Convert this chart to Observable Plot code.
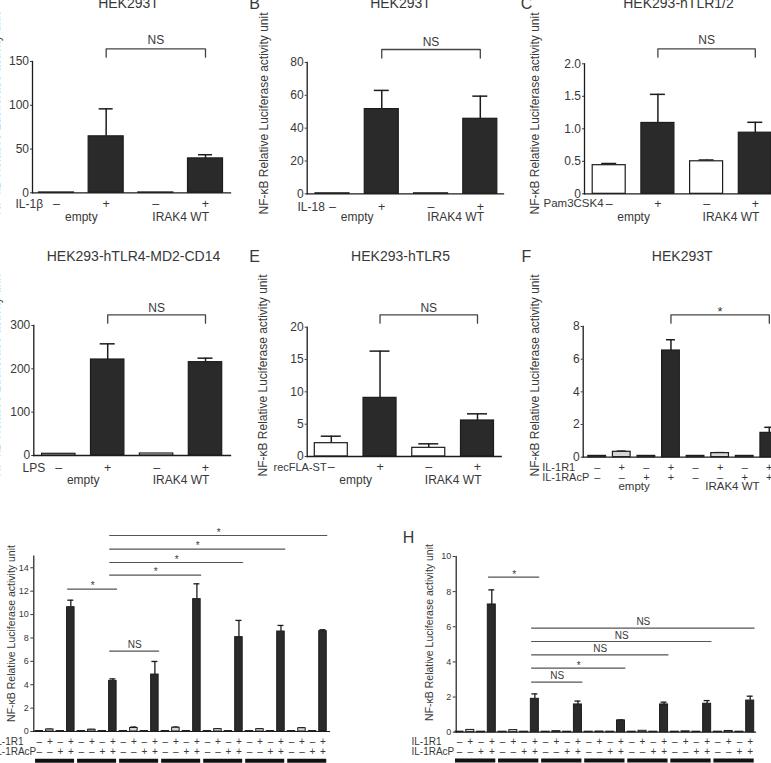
<!DOCTYPE html>
<html><head><meta charset="utf-8">
<script src="https://cdn.jsdelivr.net/npm/d3@7"></script>
<script src="https://cdn.jsdelivr.net/npm/@observablehq/plot@0.6"></script>
<style>
html,body{margin:0;padding:0;background:#fff;}
#fig{position:relative;width:771px;height:763px;overflow:hidden;background:#fff;}
#fig svg{position:absolute;left:0;top:0;overflow:visible;background:transparent !important;}
</style></head><body><div id="fig"></div>
<script>
// ---------------- DATA ----------------
const yAxisTitle = "NF-κB Relative Luciferase activity unit";
const vectorGroups = ["empty", "IRAK4 WT"];

// Panel A
const aTitle = "HEK293T";
const aStimulus = "IL-1β";
const aSigns = ["–", "+", "–", "+"];
const aValues = [0.4, 64.5, 0.4, 39.3];
const aErrTop = [null, 95.9, null, 43.5];
const aTicks = [0, 50, 100, 150];
const aTest = {from: 1, to: 3, label: "NS"};

// Panel B
const bTitle = "HEK293T";
const bStimulus = "IL-18";
const bSigns = ["–", "+", "–", "+"];
const bValues = [0.3, 51.6, 0.3, 45.7];
const bErrTop = [null, 63.0, null, 59.5];
const bTicks = [0, 20, 40, 60, 80];
const bTest = {from: 1, to: 3, label: "NS"};

// Panel C
const cTitle = "HEK293-hTLR1/2";
const cStimulus = "Pam3CSK4";
const cSigns = ["–", "+", "–", "+"];
const cValues = [0.44, 1.09, 0.50, 0.94];
const cErrTop = [0.466, 1.53, 0.52, 1.10];
const cTicks = [0, 0.5, 1.0, 1.5, 2.0];
const cTest = {from: 1, to: 3, label: "NS"};

// Panel D
const dTitle = "HEK293-hTLR4-MD2-CD14";
const dStimulus = "LPS";
const dSigns = ["–", "+", "–", "+"];
const dValues = [3.9, 221.5, 4.6, 215.4];
const dErrTop = [null, 257.7, null, 224.6];
const dTicks = [0, 100, 200, 300];
const dTest = {from: 1, to: 3, label: "NS"};

// Panel E
const eTitle = "HEK293-hTLR5";
const eStimulus = "recFLA-ST";
const eSigns = ["–", "+", "–", "+"];
const eValues = [2.06, 9.07, 1.34, 5.57];
const eErrTop = [3.14, 16.3, 1.96, 6.6];
const eTicks = [0, 5, 10, 15, 20];
const eTest = {from: 1, to: 3, label: "NS"};

// Panel F
const fTitle = "HEK293T";
const receptorLabels = ["IL-1R1", "IL-1RAcP"];
const fSignsR1 = ["–", "+", "–", "+", "–", "+", "–", "+"];
const fSignsR2 = ["–", "–", "+", "+", "–", "–", "+", "+"];
const fValues = [0.08, 0.33, 0.08, 6.53, 0.08, 0.25, 0.08, 1.49];
const fErrTop = [null, 0.37, null, 7.19, null, 0.28, null, 1.83];
const fTicks = [0, 2, 4, 6, 8];
const fTest = {from: 3, to: 7, label: "*"};

// Panel G
const gSignsR1 = ["–","+","–","+","–","+","–","+","–","+","–","+","–","+","–","+","–","+","–","+","–","+","–","+","–","+","–","+"];
const gSignsR2 = ["–","–","+","+","–","–","+","+","–","–","+","+","–","–","+","+","–","–","+","+","–","–","+","+","–","–","+","+"];
const gValues = [0.04, 0.17, 0.04, 10.63, 0.04, 0.15, 0.04, 4.33, 0.04, 0.30, 0.04, 4.87, 0.04, 0.32, 0.04, 11.32,
                 0.04, 0.20, 0.04, 8.07, 0.04, 0.20, 0.04, 8.55, 0.04, 0.28, 0.04, 8.58];
const gErrTop = [null, 0.20, null, 11.23, null, 0.18, null, 4.50, null, 0.38, null, 5.99, null, 0.38, null, 12.63,
                 null, 0.24, null, 9.50, null, 0.24, null, 9.07, null, 0.33, null, 8.70];
const gTicks = [0, 2, 4, 6, 8, 10, 12, 14];
const gTests = [
  {from: 3, to: 7, label: "*"},
  {from: 7, to: 11, label: "NS"},
  {from: 7, to: 15, label: "*"},
  {from: 7, to: 19, label: "*"},
  {from: 7, to: 23, label: "*"},
  {from: 7, to: 27, label: "*"}
];

// Panel H
const hSignsR1 = gSignsR1.slice();
const hSignsR2 = gSignsR2.slice();
const hValues = [0.03, 0.13, 0.03, 7.27, 0.03, 0.12, 0.03, 1.90, 0.03, 0.06, 0.03, 1.58, 0.03, 0.04, 0.03, 0.67,
                 0.03, 0.08, 0.03, 1.58, 0.03, 0.05, 0.03, 1.62, 0.03, 0.07, 0.03, 1.80];
const hErrTop = [null, null, null, 8.10, null, null, null, 2.18, null, null, null, 1.77, null, null, null, 0.70,
                 null, null, null, 1.71, null, null, null, 1.80, null, null, null, 2.05];
const hTicks = [0, 2, 4, 6, 8, 10];
const hTests = [
  {from: 3, to: 7, label: "*"},
  {from: 7, to: 27, label: "NS"},
  {from: 7, to: 23, label: "NS"},
  {from: 7, to: 19, label: "NS"},
  {from: 7, to: 15, label: "*"},
  {from: 7, to: 11, label: "NS"}
];

// ---------------- DRAWING ----------------
const W = 771, H = 763;
const FONT = "'Liberation Sans', Arial, Helvetica, sans-serif";
const INK = "#1c1c1c", TXT = "#383838", DARK = "#2a2a2a", LIGHT = "#d6d6d6", WHITE = "#ffffff";

function panel(d, L) {
  const n = d.values.length;
  const step = (L.cn - L.c1) / (n - 1);
  const hw = L.bw / 2 / step;
  const capHalf = L.cap / 2 / step;
  const yOf = px => L.ymax * (L.bottom - px) / (L.bottom - L.top);
  const rows = d.values.map((v, i) => ({i, v, e: d.errTop[i], fill: d.fillOf(i)}));
  const errs = rows.filter(r => r.e != null);
  const centered = {textAnchor: "middle", lineAnchor: "middle"};
  const marks = [
    Plot.ruleX(errs, {x: "i", y1: "v", y2: "e", stroke: INK, strokeWidth: L.sw}),
    Plot.ruleY(errs, {y: "e", x1: r => r.i - capHalf, x2: r => r.i + capHalf, stroke: INK, strokeWidth: L.sw}),
    Plot.rect(rows, {x1: r => r.i - hw, x2: r => r.i + hw, y1: () => 0, y2: "v", fill: "fill", stroke: INK, strokeWidth: L.barSw}),
    Plot.frame({anchor: "left", stroke: INK, strokeWidth: L.axisSw}),
    Plot.frame({anchor: "bottom", stroke: INK, strokeWidth: L.axisSw}),
    Plot.axisY(d.ticks, {tickSize: L.tickSize, tickPadding: L.tickPad, fontSize: L.tickFont, color: TXT,
      tickFormat: d.tickFormat || (t => String(t)), label: null})
  ];
  // sign rows
  d.signRows.forEach((row, k) => {
    marks.push(Plot.text(row, {x: (s, i) => i, y: () => 0, text: s => s, dy: L.signDy[k], fontSize: L.signFont, fill: TXT, ...centered}));
  });
  d.rowLabels.forEach((lab, k) => {
    marks.push(Plot.text([lab], {frameAnchor: "bottom-left", text: t => t, dx: L.stimX - L.left, dy: L.signDy[k],
      textAnchor: "start", lineAnchor: "middle", fontSize: L.stimFont, fill: TXT}));
  });
  // group labels
  if (d.groups) {
    const size = n / d.groups.length;
    marks.push(Plot.text(d.groups, {x: (g, k) => k * size + (size - 1) / 2, y: () => 0, text: g => g,
      dy: L.groupDy, fontSize: L.groupFont, fill: TXT, ...centered}));
  }
  // group underline (G, H)
  if (L.underline) {
    const gs = d3.range(n / 4);
    marks.push(Plot.ruleY(gs, {x1: k => 4 * k - hw, x2: k => 4 * k + 3 + hw, y: () => 0, dy: L.underline, stroke: "#111", strokeWidth: 4}));
  }
  // bracket (A-F)
  if (d.test) {
    const t = d.test;
    const yl = yOf(L.bLine), yt = yOf(L.bTick);
    marks.push(Plot.line([{x: t.from, y: yt}, {x: t.from, y: yl}, {x: t.to, y: yl}, {x: t.to, y: yt}],
      {x: "x", y: "y", stroke: "#444", strokeWidth: 1.3}));
    marks.push(Plot.text([t], {x: r => (r.from + r.to) / 2, y: () => yOf(L.bLabel), text: r => r.label,
      fontSize: L.testFont, fill: TXT, ...centered}));
  }
  // multiple brackets (G, H)
  if (d.tests) {
    d.tests.forEach((t, k) => {
      const yl = yOf(L.testPx[k]);
      marks.push(Plot.ruleY([t], {x1: r => r.from + L.tFrom, x2: r => r.to + L.tTo, y: () => yl, stroke: "#555", strokeWidth: 1.2}));
      const up = t.label === "*" ? L.starUp : L.nsUp;
      marks.push(Plot.text([t], {x: r => (r.from + L.tFrom + r.to + L.tTo) / 2, y: () => yOf(L.testPx[k] - up),
        text: r => r.label, fontSize: L.testFont, fill: TXT, ...centered}));
    });
  }
  if (d.title) marks.push(Plot.text([d.title], {frameAnchor: "top-left", text: t => t, dx: L.titleX - L.left, dy: L.titleY - L.top,
    fontSize: 14, fill: TXT, ...centered}));
  if (d.letter) marks.push(Plot.text([d.letter], {frameAnchor: "top-left", text: t => t, dx: L.letterX - L.left, dy: L.letterY - L.top,
    fontSize: 16, fill: TXT, ...centered}));
  marks.push(Plot.text([yAxisTitle], {frameAnchor: "top-left", text: t => t, dx: L.ylabX - L.left, dy: L.ylabY - L.top,
    rotate: -90, fontSize: L.ylabFont, fill: TXT, ...centered}));

  return Plot.plot({
    width: W, height: H,
    marginLeft: L.left, marginRight: W - L.right, marginTop: L.top, marginBottom: H - L.bottom,
    x: {type: "linear", domain: [0, n - 1], range: [L.c1, L.cn], axis: null},
    y: {domain: [0, L.ymax], range: [L.bottom, L.top]},
    color: {type: "identity"},
    style: {background: "transparent", fontFamily: FONT, color: TXT, overflow: "visible"},
    marks
  });
}

const stimFill = signs => i => signs[i] === "+" ? DARK : WHITE;
const pairFill = (r1, r2) => i => (r1[i] === "+" && r2[i] === "+") ? DARK : LIGHT;

const base = {sw: 1.5, barSw: 1.2, axisSw: 1.3, tickSize: 2, tickPad: 1.5, tickFont: 12, signFont: 12.5, stimFont: 12,
              groupFont: 12, testFont: 12, ylabFont: 12};
const fmtC = t => t === 0 ? "0" : t.toFixed(1);

const panels = [
  panel({values: aValues, errTop: aErrTop, ticks: aTicks, fillOf: stimFill(aSigns), signRows: [aSigns], rowLabels: [aStimulus],
         groups: vectorGroups, test: aTest, title: aTitle},
    {...base, left: 32, right: 230, top: 61, bottom: 192.3, ymax: 150, c1: 56, cn: 205, bw: 35, cap: 14,
     signDy: [11], groupDy: 24.5, stimX: 15, bLine: 48.3, bTick: 56.7, bLabel: 40, titleX: 128, titleY: 3, ylabX: -4, ylabY: 113}),
  panel({values: bValues, errTop: bErrTop, ticks: bTicks, fillOf: stimFill(bSigns), signRows: [bSigns], rowLabels: [bStimulus],
         groups: vectorGroups, test: bTest, title: bTitle, letter: "B"},
    {...base, left: 306.7, right: 503, top: 62, bottom: 193.3, ymax: 80, c1: 332, cn: 479.8, bw: 34, cap: 15,
     signDy: [13.4], groupDy: 23.4, stimX: 297, bLine: 49, bTick: 57.5, bLabel: 41.7, titleX: 400, titleY: 3,
     letterX: 254, letterY: 3, ylabX: 263.5, ylabY: 113}),
  panel({values: cValues, errTop: cErrTop, ticks: cTicks, tickFormat: fmtC, fillOf: stimFill(cSigns), signRows: [cSigns], rowLabels: [cStimulus],
         groups: vectorGroups, test: cTest, title: cTitle, letter: "C"},
    {...base, left: 584, right: 771, top: 63.3, bottom: 193.3, ymax: 2, c1: 608.7, cn: 754.8, bw: 33, cap: 15,
     signDy: [10], groupDy: 23.4, stimX: 543, stimFont: 11.5, bLine: 48.3, bTick: 56.7, bLabel: 39.5, titleX: 678, titleY: 3,
     letterX: 526, letterY: 3, ylabX: 535, ylabY: 113}),
  panel({values: dValues, errTop: dErrTop, ticks: dTicks, fillOf: stimFill(dSigns), signRows: [dSigns], rowLabels: [dStimulus],
         groups: vectorGroups, test: dTest, title: dTitle},
    {...base, left: 33.3, right: 230, top: 325, bottom: 455, ymax: 300, c1: 58.3, cn: 205, bw: 33.4, cap: 15,
     signDy: [12.3], groupDy: 25, stimX: 22, bLine: 314.3, bTick: 322.7, bLabel: 307.5, titleX: 133, titleY: 256, ylabX: -4, ylabY: 375}),
  panel({values: eValues, errTop: eErrTop, ticks: eTicks, fillOf: stimFill(eSigns), signRows: [eSigns], rowLabels: [eStimulus],
         groups: vectorGroups, test: eTest, title: eTitle, letter: "E"},
    {...base, left: 306.7, right: 500.7, top: 326.7, bottom: 456, ymax: 20, c1: 330.8, cn: 477, bw: 33, cap: 20,
     signDy: [10.7], groupDy: 24, stimX: 273, stimFont: 11, bLine: 314.3, bTick: 322.7, bLabel: 307.5, titleX: 400, titleY: 256,
     letterX: 254, letterY: 256, ylabX: 263, ylabY: 375}),
  panel({values: fValues, errTop: fErrTop, ticks: fTicks, fillOf: pairFill(fSignsR1, fSignsR2), signRows: [fSignsR1, fSignsR2],
         rowLabels: receptorLabels, groups: vectorGroups, test: fTest, title: fTitle, letter: "F"},
    {...base, left: 582.7, right: 771, top: 326, bottom: 456.7, ymax: 8, c1: 596.7, cn: 768.8, bw: 17.7, cap: 9,
     signDy: [10, 20], groupDy: 29.5, stimX: 541.7, stimFont: 11, signFont: 11, groupFont: 11.5, testFont: 13,
     bLine: 314.3, bTick: 322.7, bLabel: 311, titleX: 681.7, titleY: 256,
     letterX: 526, letterY: 256, ylabX: 535, ylabY: 375}),
  panel({values: gValues, errTop: gErrTop, ticks: gTicks, fillOf: pairFill(gSignsR1, gSignsR2), signRows: [gSignsR1, gSignsR2],
         rowLabels: receptorLabels, tests: gTests},
    {sw: 1.3, barSw: 1, axisSw: 1.2, tickSize: 3, tickPad: 2, tickFont: 9, signFont: 10, stimFont: 10, testFont: 10, ylabFont: 10.5,
     left: 33.3, right: 329, top: 555.6, bottom: 731, ymax: 15, c1: 38.8, cn: 322.5, bw: 7.5, cap: 6,
     signDy: [10.7, 20.7], underline: 29.3, stimX: -7,
     testPx: [588.7, 650.7, 574.7, 562, 548.7, 535], tFrom: -0.3, tTo: 0.45, starUp: 3, nsUp: 6,
     ylabX: 11, ylabY: 633}),
  panel({values: hValues, errTop: hErrTop, ticks: hTicks, fillOf: pairFill(hSignsR1, hSignsR2), signRows: [hSignsR1, hSignsR2],
         rowLabels: receptorLabels, tests: hTests, letter: "H"},
    {sw: 1.3, barSw: 1, axisSw: 1.2, tickSize: 3, tickPad: 2, tickFont: 9, signFont: 10, stimFont: 10, testFont: 10, ylabFont: 10.5,
     left: 455.7, right: 755, top: 556, bottom: 731.7, ymax: 10, c1: 459, cn: 749.7, bw: 8, cap: 6,
     signDy: [10, 20], underline: 28.3, stimX: 411,
     testPx: [576.7, 627.7, 641, 654.3, 667.7, 681.7], tFrom: -0.3, tTo: 0.45, starUp: 2, nsUp: 6,
     letterX: 408, letterY: 537, ylabX: 429, ylabY: 632})
];

const fig = document.getElementById("fig");
panels.forEach(p => fig.appendChild(p));
</script></body></html>
